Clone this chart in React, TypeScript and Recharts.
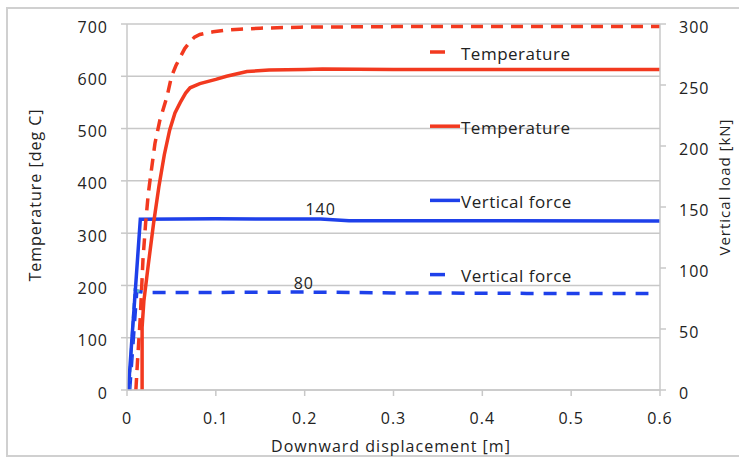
import React from 'react';
import { LineChart, Line, XAxis, YAxis, CartesianGrid, Legend, LabelList } from 'recharts';

// ---- data ----
const xTicks = [0, 0.1, 0.2, 0.3, 0.4, 0.5, 0.6];
const tempTicks = [0, 100, 200, 300, 400, 500, 600, 700];
const loadTicks = [0, 50, 100, 150, 200, 250, 300];

const tempSolidX = [0.017, 0.017, 0.019, 0.024, 0.03, 0.036, 0.042, 0.048, 0.054, 0.06, 0.066, 0.071, 0.082, 0.1, 0.112, 0.135, 0.16, 0.2, 0.22, 0.3, 0.4, 0.5, 0.6];
const tempSolidY = [0, 120, 170, 240, 320, 390, 450, 497, 530, 550, 568, 578, 586, 594, 600, 609, 612, 613, 614, 613, 613, 613, 613];

const tempDashX = [0.01, 0.012, 0.015, 0.018, 0.021, 0.024, 0.026, 0.0315, 0.037, 0.045, 0.05, 0.055, 0.06, 0.065, 0.071, 0.076, 0.082, 0.09, 0.097, 0.11, 0.127, 0.15, 0.195, 0.3, 0.6];
const tempDashY = [0, 60, 140, 250, 320, 376, 402, 472, 516, 561, 599, 620, 637, 653, 666, 675, 680, 683, 685, 688, 690, 692, 694, 695, 695];

const forceSolidX = [0.0015, 0.015, 0.1, 0.218, 0.25, 0.6];
const forceSolidY = [0, 140, 140.3, 140.2, 138.8, 138.6];
const forceSolidLbl = ['', '', '', '140', '', ''];

const forceDashX = [0.003, 0.011, 0.02, 0.1, 0.199, 0.3, 0.45, 0.587];
const forceDashY = [0, 81, 80, 80, 80.3, 79.6, 79.2, 79];
const forceDashLbl = ['', '', '', '', '80', '', '', ''];

const tealX = [0.002, 0.009, 0.017];
const tealY = [0, 82, 80];

const legendItems = [
  { name: 'Temperature', color: '#f2391f', dashed: true },
  { name: 'Temperature', color: '#f2391f', dashed: false },
  { name: 'Vertical force', color: '#1e40ea', dashed: false },
  { name: 'Vertical force', color: '#1e40ea', dashed: true },
];

const zip = (xs: number[], ys: number[], lbl?: string[]) =>
  xs.map((x, i) => ({ x, y: ys[i], lbl: lbl && lbl[i] ? lbl[i] : undefined }));

const tempSolid = zip(tempSolidX, tempSolidY);
const tempDash = zip(tempDashX, tempDashY);
const forceSolid = zip(forceSolidX, forceSolidY, forceSolidLbl);
const forceDash = zip(forceDashX, forceDashY, forceDashLbl);
const teal = zip(tealX, tealY);

const FONT = '"Open Sans", sans-serif';
const GRID = '#c8c8c8';
const TXT = '#222';

const fmtX = (v: number) => (v === 0 ? '0' : String(Math.round(v * 10) / 10));

const makeTick = (anchor: 'start' | 'middle' | 'end', dy: number, fmt: (v: number) => string) =>
  (props: any) => (
    <text x={props.x} y={props.y} dy={dy} textAnchor={anchor} fill={TXT} fontSize={16} fontFamily={FONT} letterSpacing={1}>
      {fmt(props.payload.value)}
    </text>
  );

const pointLabel = (dy: number) => (props: any) => {
  if (!props.value) return null;
  return (
    <text x={props.x} y={props.y} dy={dy} textAnchor="middle" fill={TXT} fontSize={16} fontFamily={FONT} letterSpacing={1}>
      {props.value}
    </text>
  );
};

const LegendContent = () => (
  <svg width={220} height={270} style={{ overflow: 'visible' }}>
    {legendItems.map((it, i) => {
      const cy = 22 + i * 74.2;
      return (
        <g key={i}>
          <line x1={10} x2={it.dashed ? 25 : 40} y1={cy} y2={cy} stroke={it.color} strokeWidth={3.5} />
          <text x={41} y={cy + 7.5} fill={TXT} fontSize={17} fontFamily={FONT} letterSpacing={0.5}>{it.name}</text>
        </g>
      );
    })}
  </svg>
);

const axisStyle = { stroke: GRID, strokeWidth: 1.5 };

export default function App() {
  return (
    <div style={{ position: 'absolute', left: 0, top: 0, width: 739, height: 458, background: '#fff' }}>
      <div style={{ position: 'absolute', left: 6, top: 7, width: 733, height: 450, boxSizing: 'border-box', borderLeft: '2px solid #d0d0d0', borderTop: '2px solid #d0d0d0', borderBottom: '2px solid #d0d0d0' }} />
      <div style={{ position: 'absolute', left: 0, top: 0 }}>
        <LineChart width={739} height={458} margin={{ top: 24, right: 20, bottom: 20, left: 20 }}>
          <CartesianGrid yAxisId="left" vertical={false} stroke={GRID} strokeWidth={1.5} />
          <XAxis
            dataKey="x"
            type="number"
            domain={[0, 0.6]}
            ticks={xTicks}
            allowDataOverflow
            height={48}
            tickSize={6}
            tickMargin={16}
            axisLine={axisStyle}
            tickLine={axisStyle}
            tick={makeTick('middle', 12, fmtX)}
            label={{
              content: () => (
                <text x={391} y={452} textAnchor="middle" fill={TXT} fontSize={16} fontFamily={FONT} letterSpacing={1}>
                  Downward displacement [m]
                </text>
              ),
            }}
          />
          <YAxis
            yAxisId="left"
            orientation="left"
            type="number"
            domain={[0, 700]}
            ticks={tempTicks}
            width={107}
            tickSize={6}
            tickMargin={13}
            axisLine={axisStyle}
            tickLine={axisStyle}
            tick={makeTick('end', 8.5, (v) => String(v))}
            label={{
              content: () => (
                <text x={0} y={0} transform="translate(41 195) rotate(-90)" textAnchor="middle" fill={TXT} fontSize={16} fontFamily={FONT} letterSpacing={1}>
                  Temperature [deg C]
                </text>
              ),
            }}
          />
          <YAxis
            yAxisId="right"
            orientation="right"
            type="number"
            domain={[0, 300]}
            ticks={loadTicks}
            width={59}
            tickSize={6}
            tickMargin={13}
            axisLine={axisStyle}
            tickLine={axisStyle}
            tick={makeTick('start', 8.5, (v) => String(v))}
            label={{
              content: () => (
                <text x={0} y={0} transform="translate(730 187) rotate(-90)" textAnchor="middle" fill={TXT} fontSize={15} fontFamily={FONT} letterSpacing={1}>
                  Vertical load [kN]
                </text>
              ),
            }}
          />
          <Legend layout="vertical" align="center" verticalAlign="middle" wrapperStyle={{ left: 420, top: 30, width: 220, height: 270 }} content={LegendContent} />
          <Line yAxisId="right" data={forceDash} dataKey="y" type="linear" stroke="#1e40ea" strokeWidth={3.5} strokeDasharray="13 10" dot={false} activeDot={false} isAnimationActive={false}>
            <LabelList dataKey="lbl" content={pointLabel(-3)} />
          </Line>
          <Line yAxisId="right" data={teal} dataKey="y" type="linear" stroke="#55b4c8" strokeWidth={3} strokeDasharray="6 3" dot={false} activeDot={false} isAnimationActive={false} />
          <Line yAxisId="right" data={forceSolid} dataKey="y" type="linear" stroke="#1e40ea" strokeWidth={3.5} dot={false} activeDot={false} isAnimationActive={false}>
            <LabelList dataKey="lbl" content={pointLabel(-4)} />
          </Line>
          <Line yAxisId="left" data={tempDash} dataKey="y" type="linear" stroke="#f2391f" strokeWidth={3.5} strokeDasharray="12 8" dot={false} activeDot={false} isAnimationActive={false} />
          <Line yAxisId="left" data={tempSolid} dataKey="y" type="linear" stroke="#f2391f" strokeWidth={3.5} dot={false} activeDot={false} isAnimationActive={false} />
        </LineChart>
      </div>
    </div>
  );
}
